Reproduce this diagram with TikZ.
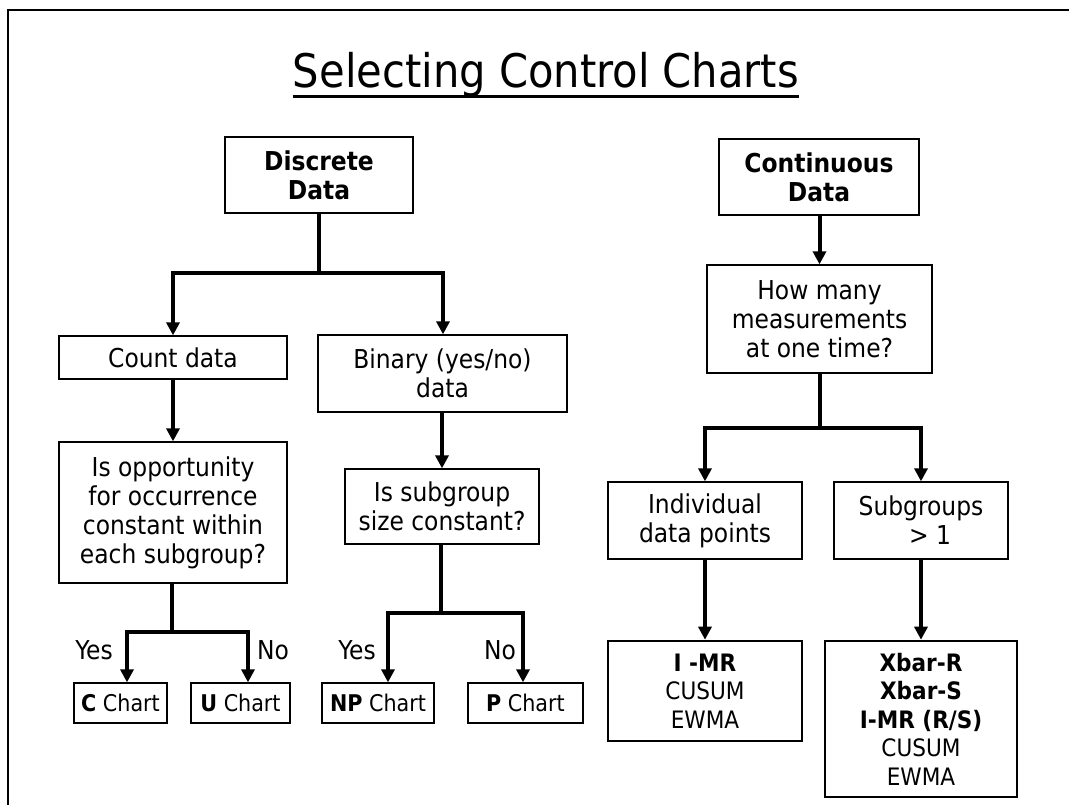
\documentclass[tikz,border=0pt]{standalone}
\usepackage{fontspec}
\setmainfont{DejaVu Sans Condensed}[BoldFont={DejaVu Sans Condensed Bold}]
\usetikzlibrary{arrows.meta,calc}
\begin{document}
\begin{tikzpicture}[x=1pt,y=-1pt,
  box/.style={draw, line width=1.3pt, inner sep=0pt, align=center, font=\fontsize{26}{29}\selectfont},
  thickbox/.style={box, line width=2.6pt, font=\fontsize{24}{28.5}\selectfont},
  chartbox/.style={box, font=\fontsize{23}{27}\selectfont},
  conn/.style={line width=4pt, line join=miter},
  arr/.style={conn, -{Triangle[width=13pt,length=13pt]}},
  darr/.style={conn, {Triangle[width=13pt,length=13pt]}-{Triangle[width=13pt,length=13pt]}},
  lbl/.style={font=\fontsize{26}{29}\selectfont, inner sep=0pt}
]
\useasboundingbox (0,0) rectangle (1069,805);
% slide frame
\draw[line width=2.5pt] (8,805) -- (8,10) -- (1069,10);
% title
\node[inner sep=0pt, anchor=base, font=\fontsize{46.3}{52}\selectfont] (title) at (546,88) {Selecting Control Charts};
\draw[line width=3pt] ([yshift=-9pt]title.base west) -- ([yshift=-9pt]title.base east);

% boxes
\node[box, minimum width=188pt, minimum height=76pt, font=\fontsize{26}{29}\selectfont\bfseries] (disc) at (319,175) {Discrete\\Data};
\node[box, minimum width=200pt, minimum height=76pt, font=\fontsize{26}{29}\selectfont\bfseries] (cont) at (819,177) {Continuous\\Data};
\node[box, minimum width=228pt, minimum height=43pt] (count) at (173,357.5) {Count data};
\node[box, minimum width=249pt, minimum height=77pt] (binary) at (442.5,373.5) {Binary (yes/no)\\data};
\node[box, minimum width=228pt, minimum height=141pt] (opp) at (173,512.5) {Is opportunity\\for occurrence\\constant within\\each subgroup?};
\node[box, minimum width=194pt, minimum height=75pt] (subsz) at (442,506.5) {Is subgroup\\size constant?};
\node[box, minimum width=225pt, minimum height=108pt] (howmany) at (819.5,319) {How many\\measurements\\at one time?};
\node[box, minimum width=194pt, minimum height=77pt] (indiv) at (705,520.5) {Individual\\data points};
\node[box, minimum width=174pt, minimum height=77pt] (subgr) at (921,520.5) {Subgroups\\\hspace*{0.7em}> 1};
\node[thickbox, minimum width=194pt, minimum height=100pt] (imr) at (705,691) {\textbf{I -MR}\\CUSUM\\EWMA};
\node[thickbox, minimum width=192pt, minimum height=156pt] (xbar) at (921,719) {\textbf{Xbar-R}\\\textbf{Xbar-S}\\\textbf{I-MR (R/S)}\\CUSUM\\EWMA};
\node[chartbox, minimum width=93pt, minimum height=40pt] (cchart) at (120.5,703) {\textbf{C} Chart};
\node[chartbox, minimum width=99pt, minimum height=40pt] (uchart) at (240.5,703) {\textbf{U} Chart};
\node[chartbox, minimum width=112pt, minimum height=40pt] (npchart) at (378,703) {\textbf{NP} Chart};
\node[chartbox, minimum width=115pt, minimum height=40pt] (pchart) at (525.5,703) {\textbf{P} Chart};

% junction coordinates
\coordinate (dj) at (319,273);
\coordinate (djl) at (173,273);
\coordinate (djr) at (443,273);
\coordinate (oj) at (172,632);
\coordinate (ojl) at (127,632);
\coordinate (ojr) at (248,632);
\coordinate (sj) at (441,613);
\coordinate (sjl) at (388,613);
\coordinate (sjr) at (523,613);
\coordinate (hj) at (819.5,428);
\coordinate (hjl) at (705,428);
\coordinate (hjr) at (921,428);

% connectors
\draw[conn] (disc.south) -- (dj);
\draw[darr] (djl |- count.north) -- (djl) -- (djr) -- (djr |- binary.north);
\draw[arr] (count.south) -- (opp.north);
\draw[arr] (binary.south -| subsz.north) -- (subsz.north);
\draw[conn] (opp.south -| oj) -- (oj);
\draw[darr] (ojl |- cchart.north) -- (ojl) -- (ojr) -- (ojr |- uchart.north);
\draw[conn] (subsz.south -| sj) -- (sj);
\draw[darr] (sjl |- npchart.north) -- (sjl) -- (sjr) -- (sjr |- pchart.north);
\draw[arr] (cont.south -| howmany.north) -- (howmany.north);
\draw[conn] (howmany.south) -- (hj);
\draw[darr] (hjl |- indiv.north) -- (hjl) -- (hjr) -- (hjr |- subgr.north);
\draw[arr] (indiv.south) -- (imr.north);
\draw[arr] (subgr.south) -- (xbar.north);

% labels
\node[lbl] (yes1) at (94,650) {Yes};
\node[lbl] (no1) at (273,650) {No};
\node[lbl] (yes2) at (357,650) {Yes};
\node[lbl] (no2) at (500,650) {No};
\end{tikzpicture}
\end{document}
